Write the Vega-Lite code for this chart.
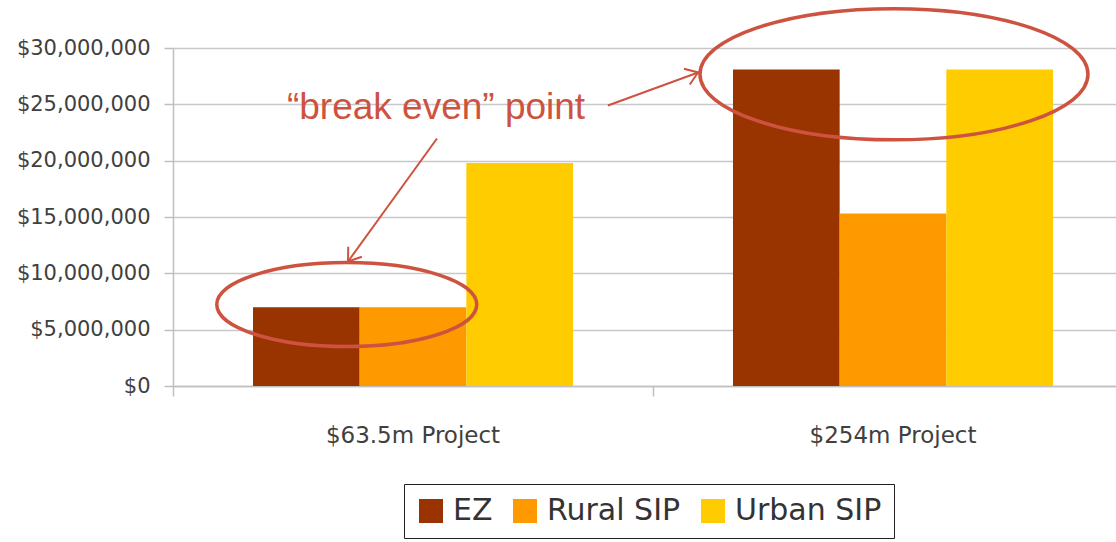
{
  "$schema": "https://vega.github.io/schema/vega-lite/v6.json",
  "width": 960,
  "height": 338,
  "autosize": {"type": "none"},
  "padding": {"left": 173, "top": 48, "right": 0, "bottom": 156},
  "background": "white",
  "config": {"view": {"stroke": null}, "font": "DejaVu Sans"},
  "datasets": {
    "bars": [
      {"project": "$63.5m Project", "series": "EZ", "value": 7000000},
      {"project": "$63.5m Project", "series": "Rural SIP", "value": 7000000},
      {"project": "$63.5m Project", "series": "Urban SIP", "value": 19800000},
      {"project": "$254m Project", "series": "EZ", "value": 28100000},
      {"project": "$254m Project", "series": "Rural SIP", "value": 15300000},
      {"project": "$254m Project", "series": "Urban SIP", "value": 28100000}
    ],
    "notes": [
      {"item": "ellipse_small", "pos": 0.362, "amount": 7230000},
      {"item": "ellipse_large", "pos": 1.502, "amount": 27670000},
      {"item": "arrow_small", "pos": 0.55, "amount": 21970000, "pos2": 0.3646, "amount2": 11050000},
      {"item": "arrow_large", "pos": 0.906, "amount": 24900000, "pos2": 1.094, "amount2": 27830000},
      {"item": "label", "pos": 0.548, "amount": 23740000, "text": "“break even” point"}
    ]
  },
  "layer": [
    {
      "data": {"name": "bars"},
      "mark": {"type": "bar"},
      "encoding": {
        "x": {
          "field": "project", "type": "nominal", "sort": null,
          "scale": {"paddingInner": 0.3333, "paddingOuter": 0.1667},
          "axis": {"title": null, "labelAngle": 0, "ticks": false, "domain": true, "domainColor": "#BFBFBF", "domainWidth": 1.5, "labelFont": "DejaVu Sans", "labelFontSize": 23, "labelColor": "#404040", "labelPadding": 38, "orient": "bottom"}
        },
        "xOffset": {"field": "series", "type": "nominal", "sort": ["EZ", "Rural SIP", "Urban SIP"], "scale": {"paddingInner": 0, "paddingOuter": 0}},
        "y": {
          "field": "value", "type": "quantitative",
          "scale": {"domain": [0, 30000000], "nice": false},
          "axis": {"title": null, "values": [0, 5000000, 10000000, 15000000, 20000000, 25000000, 30000000], "format": "$,.0f", "labelFont": "DejaVu Sans", "labelFontSize": 21, "labelColor": "#404040", "tickSize": 9, "tickColor": "#BFBFBF", "tickWidth": 1.5, "domainColor": "#BFBFBF", "domainWidth": 1.5, "gridColor": "#C8C8C8", "gridWidth": 1.5, "labelPadding": 14}
        },
        "color": {
          "field": "series", "type": "nominal",
          "scale": {"domain": ["EZ", "Rural SIP", "Urban SIP"], "range": ["#993300", "#FF9900", "#FFCC00"]},
          "legend": {"title": null, "orient": "none", "legendX": 231, "legendY": 436, "direction": "horizontal", "strokeColor": "#222222", "padding": 12, "symbolType": "square", "symbolSize": 576, "symbolStrokeWidth": 0, "symbolOpacity": 1, "labelFont": "DejaVu Sans", "labelFontSize": 30, "labelColor": "#333333", "labelOffset": 7, "columnPadding": 17}
        }
      }
    },
    {
      "data": {"name": "notes"},
      "transform": [{"filter": "datum.item === 'ellipse_small'"}],
      "mark": {"type": "point", "shape": "M -1 0 A 1 0.323 0 1 1 1 0 A 1 0.323 0 1 1 -1 0 Z", "size": 67600, "filled": false, "color": "#CD5340", "strokeWidth": 3.5, "opacity": 1},
      "encoding": {
        "x": {"field": "pos", "type": "quantitative", "scale": {"domain": [0, 2], "nice": false}, "axis": null},
        "y": {"field": "amount", "type": "quantitative", "scale": {"domain": [0, 30000000], "nice": false}, "axis": null}
      }
    },
    {
      "data": {"name": "notes"},
      "transform": [{"filter": "datum.item === 'ellipse_large'"}],
      "mark": {"type": "point", "shape": "M -1 0 A 1 0.338 0 1 1 1 0 A 1 0.338 0 1 1 -1 0 Z", "size": 150544, "filled": false, "color": "#CD5340", "strokeWidth": 3.5, "opacity": 1},
      "encoding": {
        "x": {"field": "pos", "type": "quantitative", "scale": {"domain": [0, 2], "nice": false}, "axis": null},
        "y": {"field": "amount", "type": "quantitative", "scale": {"domain": [0, 30000000], "nice": false}, "axis": null}
      }
    },
    {
      "data": {"name": "notes"},
      "transform": [{"filter": "datum.item === 'arrow_small' || datum.item === 'arrow_large'"}],
      "mark": {"type": "rule", "color": "#CD5340", "strokeWidth": 2},
      "encoding": {
        "x": {"field": "pos", "type": "quantitative", "scale": {"domain": [0, 2], "nice": false}, "axis": null},
        "x2": {"field": "pos2"},
        "y": {"field": "amount", "type": "quantitative", "scale": {"domain": [0, 30000000], "nice": false}, "axis": null},
        "y2": {"field": "amount2"}
      }
    },
    {
      "data": {"name": "notes"},
      "transform": [{"filter": "datum.item === 'arrow_small'"}],
      "mark": {"type": "point", "shape": "M -1 -0.7 L 0 0 L -1 0.7", "size": 576, "filled": false, "color": "#CD5340", "strokeWidth": 2, "opacity": 1, "angle": 125.9},
      "encoding": {
        "x": {"field": "pos2", "type": "quantitative", "scale": {"domain": [0, 2], "nice": false}, "axis": null},
        "y": {"field": "amount2", "type": "quantitative", "scale": {"domain": [0, 30000000], "nice": false}, "axis": null}
      }
    },
    {
      "data": {"name": "notes"},
      "transform": [{"filter": "datum.item === 'arrow_large'"}],
      "mark": {"type": "point", "shape": "M -1 -0.7 L 0 0 L -1 0.7", "size": 576, "filled": false, "color": "#CD5340", "strokeWidth": 2, "opacity": 1, "angle": 339.9},
      "encoding": {
        "x": {"field": "pos2", "type": "quantitative", "scale": {"domain": [0, 2], "nice": false}, "axis": null},
        "y": {"field": "amount2", "type": "quantitative", "scale": {"domain": [0, 30000000], "nice": false}, "axis": null}
      }
    },
    {
      "data": {"name": "notes"},
      "transform": [{"filter": "datum.item === 'label'"}],
      "mark": {"type": "text", "font": "Liberation Sans", "fontSize": 37, "color": "#CD5340", "align": "center", "baseline": "alphabetic"},
      "encoding": {
        "x": {"field": "pos", "type": "quantitative", "scale": {"domain": [0, 2], "nice": false},
          "axis": {"orient": "bottom", "values": [0, 1, 2], "labels": false, "grid": false, "domain": false, "ticks": true, "tickSize": 10, "tickColor": "#BFBFBF", "tickWidth": 1.5, "title": null}},
        "y": {"field": "amount", "type": "quantitative", "scale": {"domain": [0, 30000000], "nice": false}, "axis": null},
        "text": {"field": "text"}
      }
    }
  ],
  "resolve": {"scale": {"x": "independent"}, "axis": {"x": "independent", "y": "independent"}}
}
